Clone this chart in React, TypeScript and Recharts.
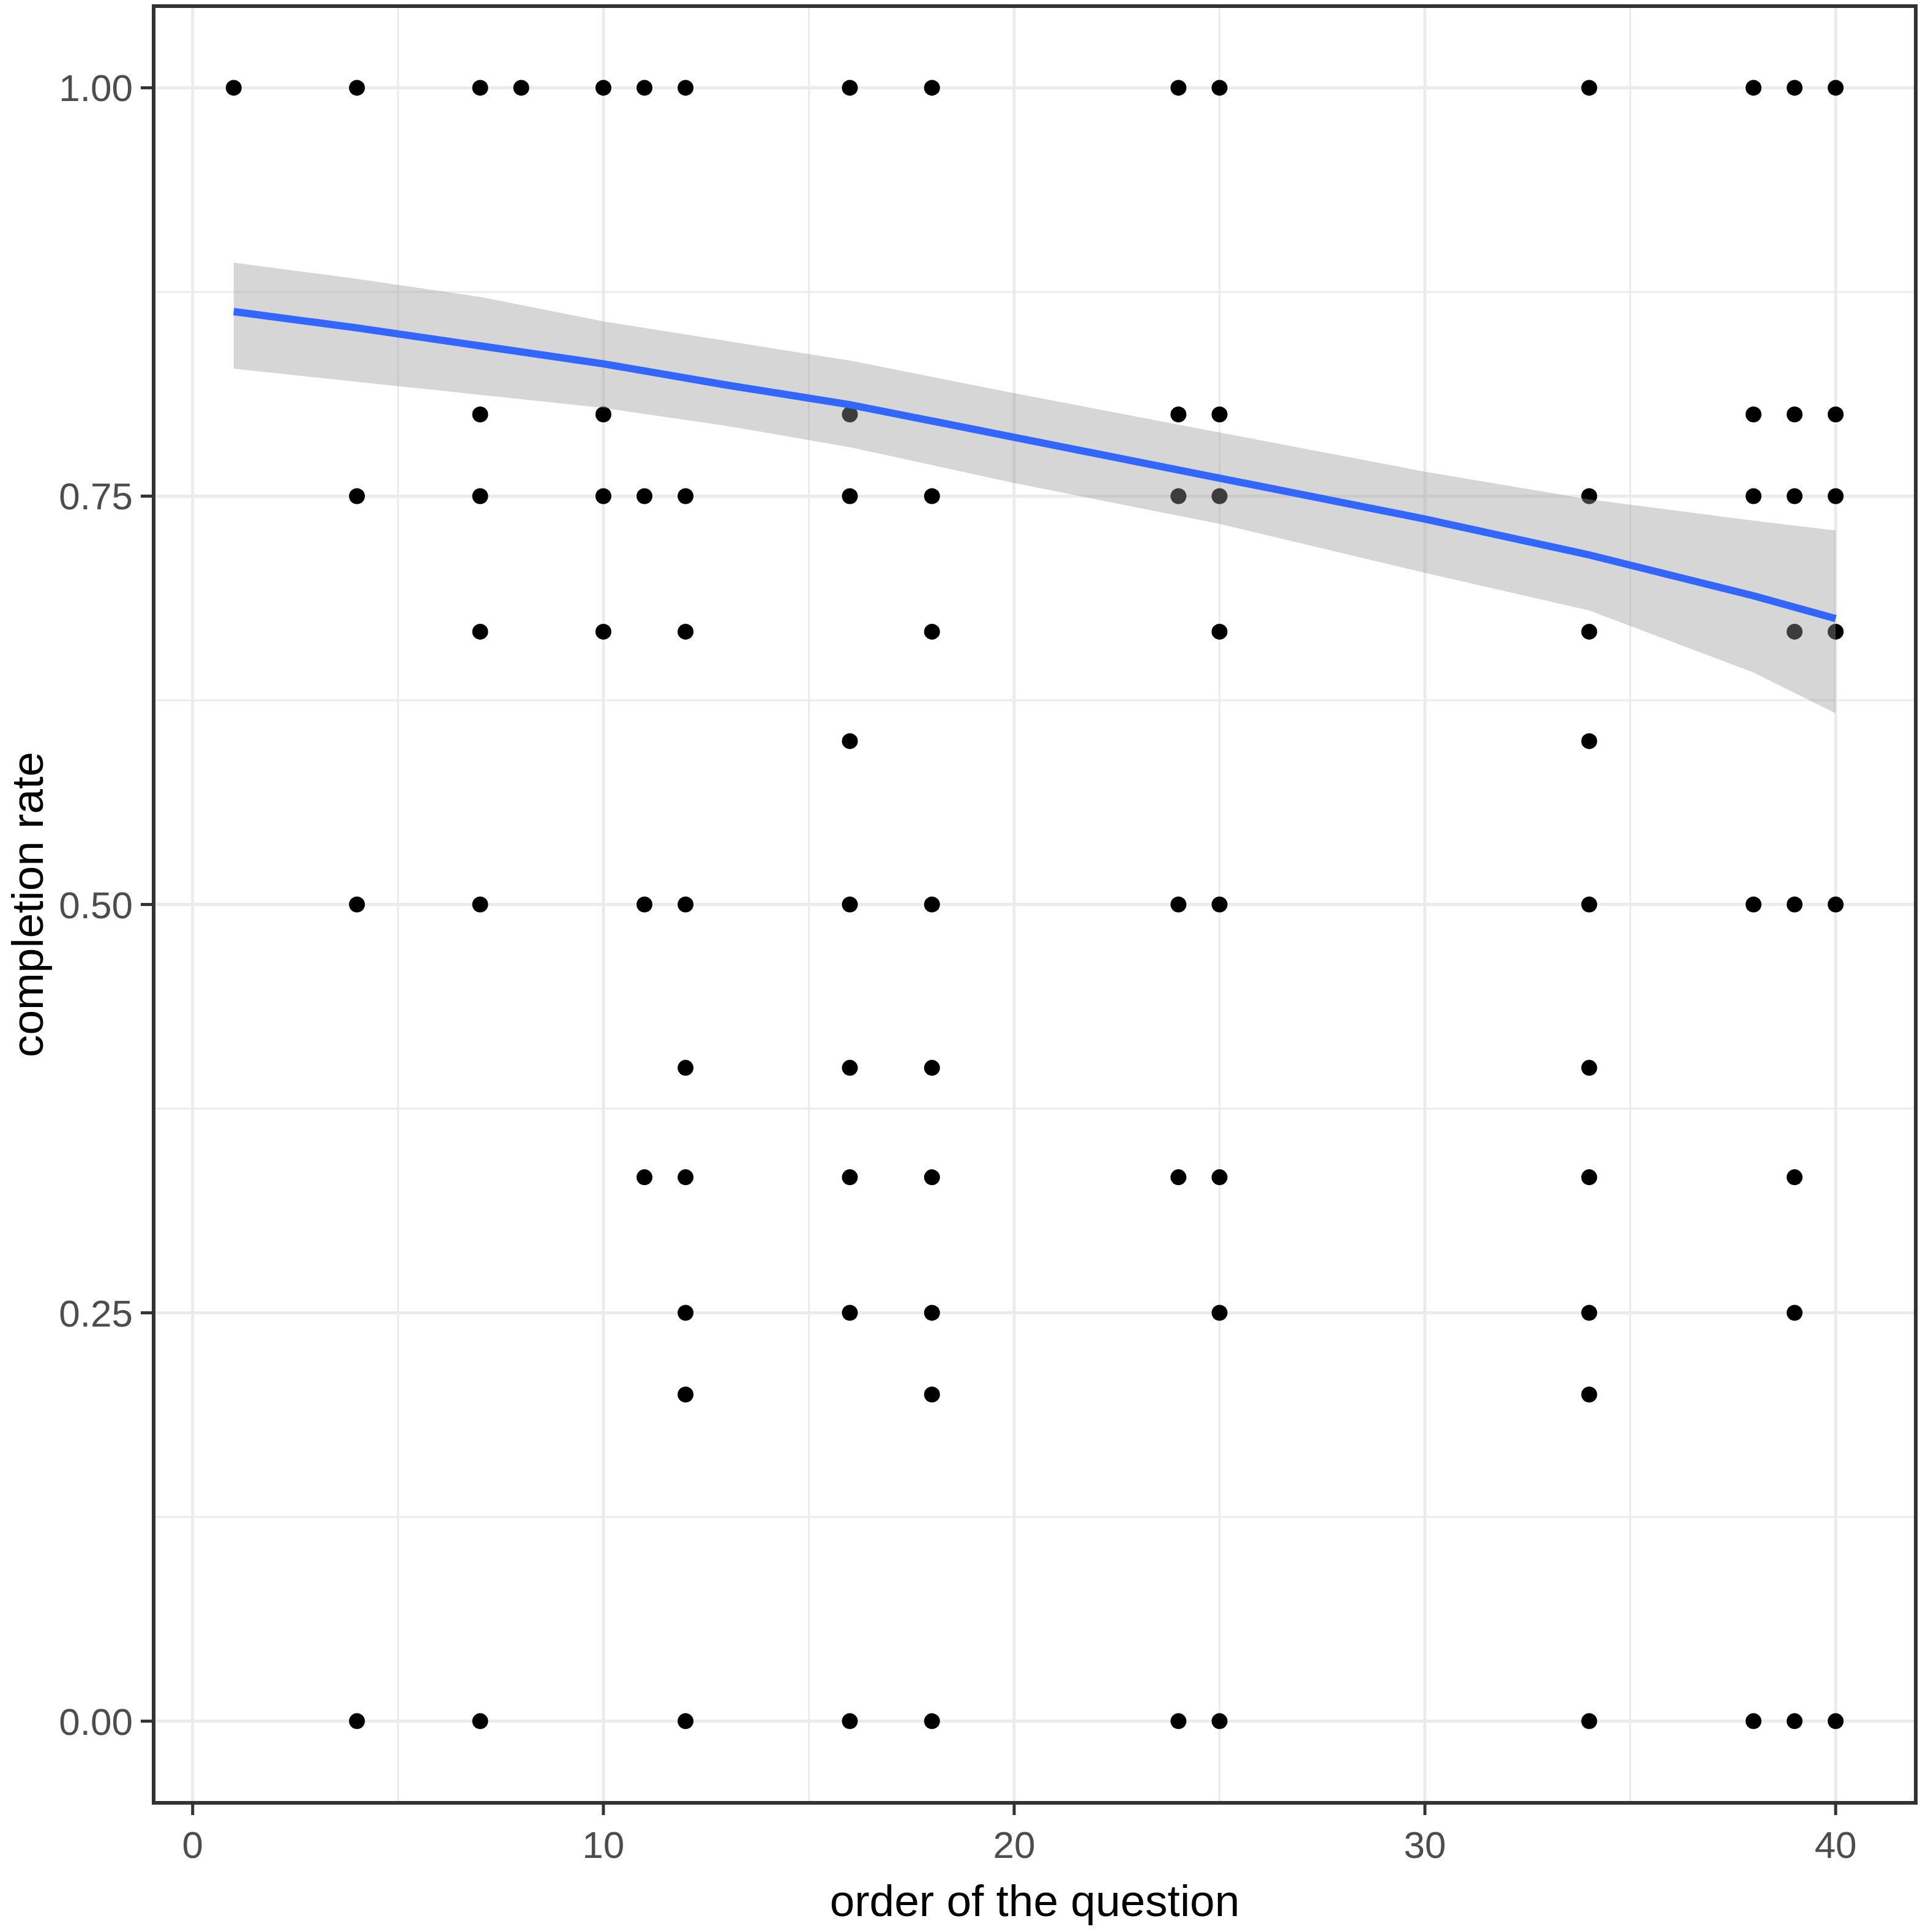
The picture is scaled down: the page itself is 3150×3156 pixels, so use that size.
import React from 'react';
import {
  ComposedChart, Scatter, Line, Area, XAxis, YAxis, CartesianGrid, ReferenceArea, Label,
} from 'recharts';

// observed points: question order and completion rate
const pointX = [
  1,
  4, 4, 4, 4,
  7, 7, 7, 7, 7, 7,
  8,
  10, 10, 10, 10,
  11, 11, 11, 11,
  12, 12, 12, 12, 12, 12, 12, 12, 12,
  16, 16, 16, 16, 16, 16, 16, 16, 16,
  18, 18, 18, 18, 18, 18, 18, 18, 18,
  24, 24, 24, 24, 24, 24,
  25, 25, 25, 25, 25, 25, 25, 25,
  34, 34, 34, 34, 34, 34, 34, 34, 34, 34,
  38, 38, 38, 38, 38,
  39, 39, 39, 39, 39, 39, 39, 39,
  40, 40, 40, 40, 40, 40,
];
const pointY = [
  1.0,
  1.0, 0.75, 0.5, 0.0,
  1.0, 0.8, 0.75, 0.667, 0.5, 0.0,
  1.0,
  1.0, 0.8, 0.75, 0.667,
  1.0, 0.75, 0.5, 0.333,
  1.0, 0.75, 0.667, 0.5, 0.4, 0.333, 0.25, 0.2, 0.0,
  1.0, 0.8, 0.75, 0.6, 0.5, 0.4, 0.333, 0.25, 0.0,
  1.0, 0.75, 0.667, 0.5, 0.4, 0.333, 0.25, 0.2, 0.0,
  1.0, 0.8, 0.75, 0.5, 0.333, 0.0,
  1.0, 0.8, 0.75, 0.667, 0.5, 0.333, 0.25, 0.0,
  1.0, 0.75, 0.667, 0.6, 0.5, 0.4, 0.333, 0.25, 0.2, 0.0,
  1.0, 0.8, 0.75, 0.5, 0.0,
  1.0, 0.8, 0.75, 0.667, 0.5, 0.333, 0.25, 0.0,
  1.0, 0.8, 0.75, 0.667, 0.5, 0.0,
];

// smooth fit and confidence band
const fitX = [1, 4, 7, 10, 13, 16, 20, 25, 30, 34, 38, 40];
const fitY = [0.863, 0.853, 0.842, 0.831, 0.818, 0.806, 0.786, 0.761, 0.736, 0.714, 0.689, 0.675];
const fitHi = [0.893, 0.883, 0.872, 0.857, 0.845, 0.833, 0.813, 0.789, 0.765, 0.748, 0.735, 0.729];
const fitLo = [0.828, 0.820, 0.812, 0.804, 0.793, 0.780, 0.758, 0.733, 0.703, 0.680, 0.642, 0.617];

const xTicks = [0, 10, 20, 30, 40];
const yTicks = [0, 0.25, 0.5, 0.75, 1];
const xMinor = [5, 15, 25, 35];
const yMinor = [0.125, 0.375, 0.625, 0.875];

const points = pointX.map((x, i) => ({ x, y: pointY[i] }));
const fitData = fitX.map((x, i) => ({ x, fit: fitY[i], band: [fitLo[i], fitHi[i]] }));

const FONT = "'Liberation Sans', Arial, Helvetica, sans-serif";

const Dot = (props: any) => <circle cx={props.cx} cy={props.cy} r={13} fill="#000000" />;

export default function App() {
  return (
    <div style={{ position: 'absolute', left: 0, top: 0, width: 3150, height: 3156, background: '#fff' }}>
      <ComposedChart
        width={3150}
        height={3156}
        data={fitData}
        margin={{ top: 10, right: 20, bottom: 61, left: 51 }}
        style={{ fontFamily: FONT }}
      >
        <CartesianGrid
          stroke="#EBEBEB"
          strokeWidth={3}
          verticalValues={xMinor}
          horizontalValues={yMinor}
          fill="none"
        />
        <CartesianGrid
          stroke="#EBEBEB"
          strokeWidth={5}
          verticalValues={xTicks}
          horizontalValues={yTicks}
          fill="none"
        />
        <XAxis
          dataKey="x"
          type="number"
          domain={[-0.95, 41.95]}
          ticks={xTicks}
          allowDataOverflow
          height={150}
          tickSize={20}
          tickMargin={26}
          axisLine={false}
          tickLine={{ stroke: '#333333', strokeWidth: 5 }}
          tick={{ fill: '#4D4D4D', fontSize: 62, fontFamily: FONT }}
        >
          <Label
            content={(p: any) => {
              const vb = p.viewBox || {};
              return (
                <text x={vb.x + vb.width / 2} y={3130} textAnchor="middle" fontSize={73} fill="#000" fontFamily={FONT}>
                  order of the question
                </text>
              );
            }}
          />
        </XAxis>
        <YAxis
          type="number"
          domain={[-0.05, 1.05]}
          ticks={yTicks}
          allowDataOverflow
          width={200}
          tickSize={21}
          tickMargin={13}
          axisLine={false}
          tickLine={{ stroke: '#333333', strokeWidth: 5 }}
          tick={{ fill: '#4D4D4D', fontSize: 62, fontFamily: FONT }}
          tickFormatter={(v: number) => v.toFixed(2)}
        >
          <Label
            content={(p: any) => {
              const vb = p.viewBox || {};
              const cy = vb.y + vb.height / 2;
              return (
                <text x={70} y={cy} transform={`rotate(-90 70 ${cy})`} textAnchor="middle" fontSize={73} fill="#000" fontFamily={FONT}>
                  completion rate
                </text>
              );
            }}
          />
        </YAxis>
        <Scatter data={points} dataKey="y" shape={Dot} isAnimationActive={false} zIndex={100} />
        <Area
          dataKey="band"
          type="linear"
          stroke="none"
          fill="#999999"
          fillOpacity={0.4}
          isAnimationActive={false}
          dot={false}
          activeDot={false}
          zIndex={200}
        />
        <Line
          dataKey="fit"
          type="linear"
          stroke="#3366FF"
          strokeWidth={12}
          dot={false}
          activeDot={false}
          isAnimationActive={false}
          zIndex={300}
        />
        <ReferenceArea
          x1={-0.95}
          x2={41.95}
          y1={-0.05}
          y2={1.05}
          fill="none"
          stroke="#333333"
          strokeWidth={6}
          ifOverflow="visible"
          zIndex={1000}
        />
      </ComposedChart>
    </div>
  );
}
